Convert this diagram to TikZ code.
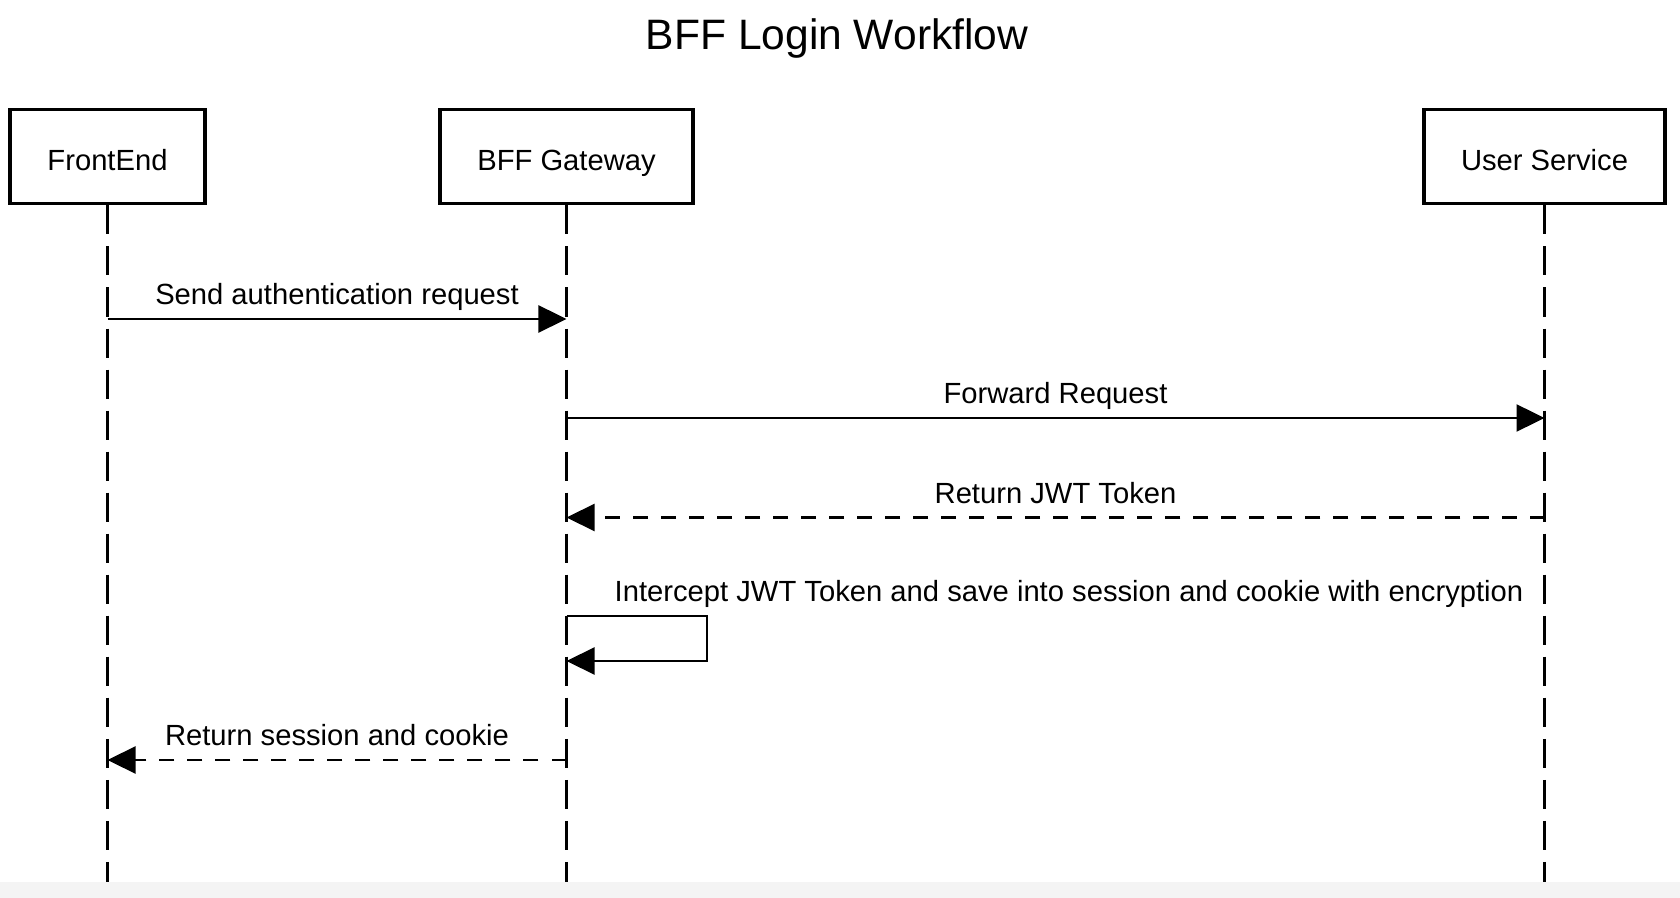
\documentclass[tikz,border=0pt]{standalone}
\usepackage{fontspec}
\setmainfont{Liberation Sans}
\usetikzlibrary{arrows.meta}
\definecolor{stripgray}{HTML}{F4F4F4}

\begin{document}
\begin{tikzpicture}[x=0.01cm, y=-0.01cm,
        actor/.style={draw, line width=1.1pt, minimum height=0.94cm, inner sep=0pt,
            text height=0.28cm, text depth=0pt, font=\fontsize{8.3}{10}\selectfont},
        lifeline/.style={line width=0.75pt, dash pattern=on 0.29cm off 0.12cm},
        msg/.style={line width=0.65pt, -{Triangle[length=0.28cm, width=0.27cm]}},
        reply/.style={msg, dash pattern=on 0.15cm off 0.13cm},
        msglabel/.style={anchor=base, yshift=0.14cm, inner sep=0pt, font=\fontsize{8.3}{10}\selectfont}]
        \useasboundingbox (0,0) rectangle (1680,898);

        \node[anchor=base, inner sep=0pt, font=\fontsize{12.1}{14}\selectfont] (title) at (837,50) {BFF Login Workflow};

        % participants
        \node[actor, minimum width=1.95cm] (fe) at (107.5,156.5) {FrontEnd};
        \node[actor, minimum width=2.53cm] (gw) at (566.5,156.5) {BFF Gateway};
        \node[actor, minimum width=2.41cm] (us) at (1544.5,156.5) {User Service};

        \draw[lifeline] (fe.south) -- (fe.south |- 0,882);
        \draw[lifeline] (gw.south) -- (gw.south |- 0,882);
        \draw[lifeline] (us.south) -- (us.south |- 0,882);

        % messages
        \draw[msg] (fe.south |- 0,319) -- node[msglabel] (m1) {Send authentication request} (gw.south |- 0,319);
        \draw[msg] (gw.south |- 0,418) -- node[msglabel] (m2) {Forward Request} (us.south |- 0,418);
        \draw[reply] (us.south |- 0,517.5) -- node[msglabel] (m3) {Return JWT Token} (gw.south |- 0,517.5);
        \draw[msg] (gw.south |- 0,616) -- (707,616) -- (707,661) -- (gw.south |- 0,661);
        \node[msglabel, anchor=base west] (m4) at (614,616) {Intercept JWT Token and save into session and cookie with encryption};
        \draw[reply] (gw.south |- 0,760) -- node[msglabel] (m5) {Return session and cookie} (fe.south |- 0,760);

        \fill[stripgray] (0,882) rectangle (1680,898);
    \end{tikzpicture}
\end{document}
